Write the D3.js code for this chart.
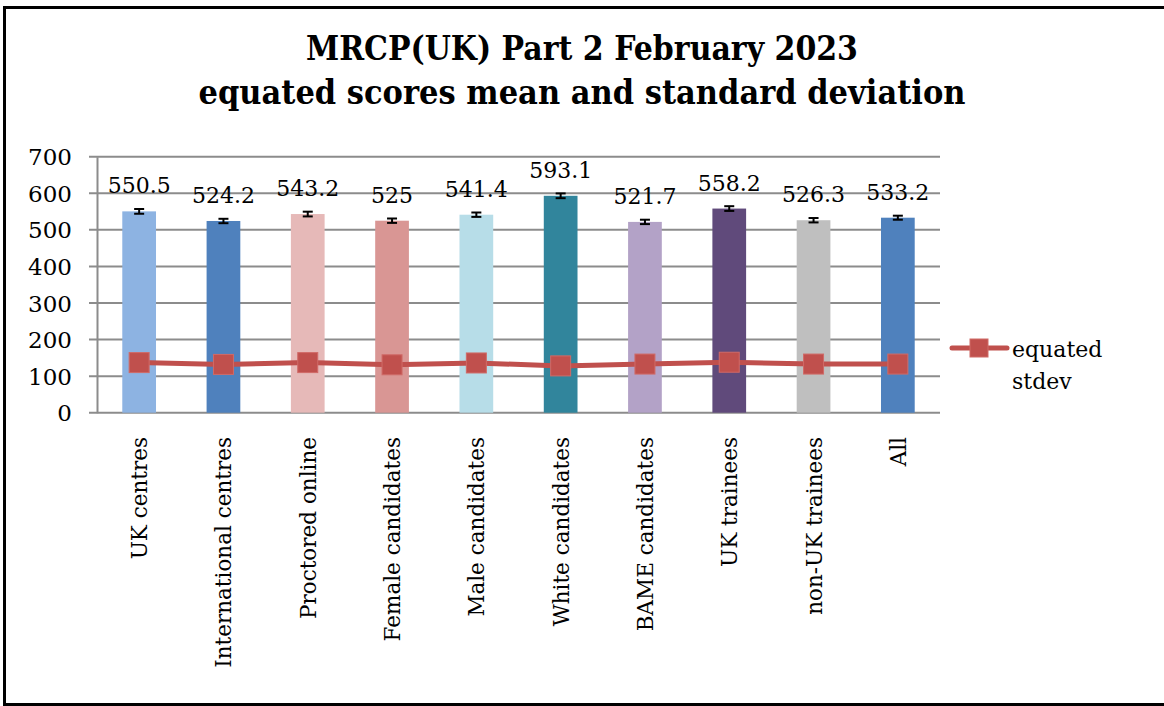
<!DOCTYPE html>
<html>
<head>
<meta charset="utf-8">
<script src="https://cdn.jsdelivr.net/npm/d3@7"></script>
<style>
  body { margin: 0; background: #ffffff; overflow: hidden; }
  text { font-family: "DejaVu Serif", serif; fill: #000000; }
</style>
</head>
<body>
<script>
// chart data
const categories = ["UK centres", "International centres", "Proctored online", "Female candidates",
  "Male candidates", "White candidates", "BAME candidates", "UK trainees", "non-UK trainees", "All"];
const means = [550.5, 524.2, 543.2, 525, 541.4, 593.1, 521.7, 558.2, 526.3, 533.2];
const meanErr = [6.5, 6, 6.5, 6, 6, 6.5, 6, 6.5, 6, 5.5];
const stdevs = [137, 132, 137, 131, 136, 128, 133, 138, 133, 133];
const barColors = ["#8db3e2", "#4f81bd", "#e6b9b8", "#d99694", "#b7dde8",
  "#31859c", "#b3a2c7", "#604a7b", "#bfbfbf", "#4f81bd"];
const yTicks = [0, 100, 200, 300, 400, 500, 600, 700];
const titleLines = ["MRCP(UK) Part 2 February 2023", "equated scores mean and standard deviation"];
const legendLines = ["equated", "stdev"];

const W = 1164, H = 706;
const svg = d3.select("body").append("svg")
  .attr("width", W)
  .attr("height", H);

// outer frame (right edge runs off the picture)
svg.append("rect")
  .attr("x", 4.5).attr("y", 7.5)
  .attr("width", 1175).attr("height", 697)
  .attr("fill", "#ffffff")
  .attr("stroke", "#000000")
  .attr("stroke-width", 3);

// title
const titleY = [60, 104];
const titleW = [552, 767];
titleLines.forEach((t, i) => {
  svg.append("text")
    .attr("x", 582).attr("y", titleY[i])
    .attr("text-anchor", "middle")
    .attr("font-size", 33)
    .attr("font-weight", "bold")
    .attr("textLength", titleW[i])
    .attr("lengthAdjust", "spacingAndGlyphs")
    .text(t);
});

// plot area
const plot = { left: 97, right: 940, top: 156.7, bottom: 412.7 };

const x = d3.scaleBand()
  .domain(categories)
  .range([plot.left, plot.right])
  .paddingInner(0.6)
  .paddingOuter(0.3);

const y = d3.scaleLinear()
  .domain([0, 700])
  .range([plot.bottom, plot.top]);

// gridlines
svg.append("g")
  .selectAll("line")
  .data(yTicks)
  .join("line")
  .attr("x1", plot.left - 8).attr("x2", plot.right)
  .attr("y1", d => y(d)).attr("y2", d => y(d))
  .attr("stroke", "#8c8c8c")
  .attr("stroke-width", 2);

// y axis
const yAxis = svg.append("g")
  .attr("transform", `translate(${plot.left},0)`)
  .call(d3.axisLeft(y).tickValues(yTicks).tickSize(0).tickPadding(25));
yAxis.select(".domain").attr("stroke", "#8c8c8c").attr("stroke-width", 2);
yAxis.selectAll("text")
  .attr("font-family", "DejaVu Serif")
  .attr("font-size", 23)
  .attr("dy", "0.35em")
  .attr("fill", "#000000");

// bars
svg.append("g")
  .selectAll("rect")
  .data(means)
  .join("rect")
  .attr("x", (d, i) => x(categories[i]))
  .attr("y", d => y(d))
  .attr("width", x.bandwidth())
  .attr("height", d => y(0) - y(d))
  .attr("fill", (d, i) => barColors[i]);

// error bars
const eb = svg.append("g").attr("stroke", "#000000").attr("stroke-width", 2);
means.forEach((m, i) => {
  const cx = x(categories[i]) + x.bandwidth() / 2;
  eb.append("line").attr("x1", cx).attr("x2", cx)
    .attr("y1", y(m - meanErr[i])).attr("y2", y(m + meanErr[i]));
  eb.append("line").attr("x1", cx - 5).attr("x2", cx + 5)
    .attr("y1", y(m - meanErr[i])).attr("y2", y(m - meanErr[i]));
  eb.append("line").attr("x1", cx - 5).attr("x2", cx + 5)
    .attr("y1", y(m + meanErr[i])).attr("y2", y(m + meanErr[i]));
});

// value labels
svg.append("g")
  .selectAll("text")
  .data(means)
  .join("text")
  .attr("x", (d, i) => x(categories[i]) + x.bandwidth() / 2)
  .attr("y", d => y(d) - 18)
  .attr("text-anchor", "middle")
  .attr("font-size", 22)
  .text(d => String(d));

// stdev line
const cxOf = i => x(categories[i]) + x.bandwidth() / 2;
svg.append("path")
  .datum(stdevs)
  .attr("d", d3.line().x((d, i) => cxOf(i)).y(d => y(d)))
  .attr("fill", "none")
  .attr("stroke", "#c0504d")
  .attr("stroke-width", 5);
svg.append("g")
  .selectAll("rect")
  .data(stdevs)
  .join("rect")
  .attr("x", (d, i) => cxOf(i) - 10)
  .attr("y", d => y(d) - 10)
  .attr("width", 20).attr("height", 20)
  .attr("fill", "#c0504d")
  .attr("stroke", "#d06a67")
  .attr("stroke-width", 1);

// category labels (rotated)
svg.append("g")
  .selectAll("text")
  .data(categories)
  .join("text")
  .attr("transform", (d, i) => `translate(${cxOf(i) + 8},437) rotate(-90)`)
  .attr("text-anchor", "end")
  .attr("font-size", 21.5)
  .text(d => d);

// legend
svg.append("line")
  .attr("x1", 952).attr("x2", 1007)
  .attr("y1", 348).attr("y2", 348)
  .attr("stroke", "#c0504d")
  .attr("stroke-width", 5)
  .attr("stroke-linecap", "round");
svg.append("rect")
  .attr("x", 970).attr("y", 339)
  .attr("width", 18).attr("height", 18)
  .attr("fill", "#c0504d")
  .attr("stroke", "#d06a67")
  .attr("stroke-width", 1);
legendLines.forEach((t, i) => {
  svg.append("text")
    .attr("x", 1012).attr("y", 357 + i * 32)
    .attr("font-size", 22)
    .text(t);
});
</script>
</body>
</html>
